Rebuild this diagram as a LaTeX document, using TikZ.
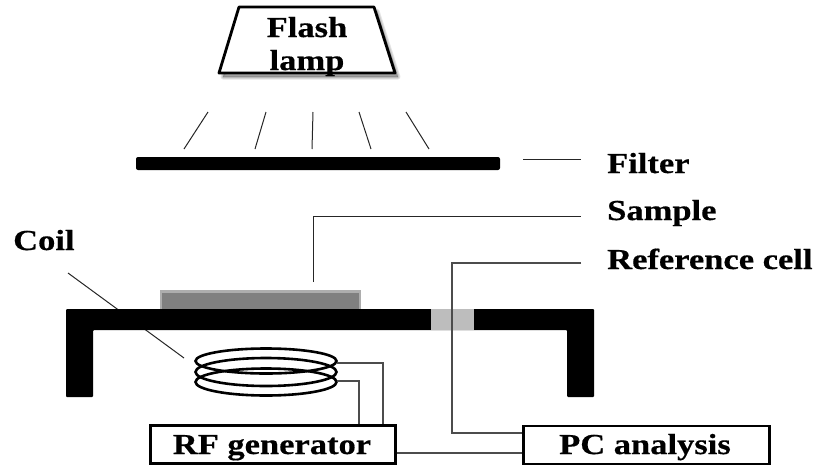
\documentclass[tikz,border=0pt]{standalone}
\usepackage{fontspec}
\setmainfont[FakeStretch=1.19,BoldFeatures={FakeBold=0.5}]{Liberation Serif}
\usetikzlibrary{calc}
\definecolor{tablegray}{gray}{0.74}
\definecolor{samplefill}{gray}{0.5}
\definecolor{sampleedge}{gray}{0.68}
\tikzset{
  lbl/.style={font=\fontsize{29}{31}\selectfont\bfseries, inner sep=0pt, anchor=base west},
  boxlbl/.style={font=\fontsize{29}{31}\selectfont\bfseries, inner sep=0pt, anchor=base},
  lampl/.style={font=\fontsize{29}{31}\selectfont\bfseries, inner sep=0pt, anchor=base},
  instr/.style={draw=black, line width=2.6pt, fill=white, inner sep=0pt, anchor=north west},
  lead/.style={draw=black!85, line width=1pt},
  ray/.style={draw=black!85, line width=1pt},
  wire/.style={draw=black!70, line width=1.2pt},
  coilloop/.style={draw=black, line width=2.6pt},
  solid black/.style={fill=black, rounded corners=1pt},
  lampshadow/.style={fill=black, opacity=0.10, line join=round},
}
\begin{document}
\begin{tikzpicture}[x=1pt,y=-1pt]
\useasboundingbox (0,0) rectangle (818,466);
% lamp
\coordinate (l1) at (239,7); \coordinate (l2) at (374,7);
\coordinate (l3) at (395,73); \coordinate (l4) at (219,73);
\foreach \w in {1,3,5}
  \filldraw[lampshadow, line width=\w pt] (243,11) -- (377,11) -- (398,77) -- (223,77) -- cycle;
\draw[line width=2.8pt, fill=white, line join=round] (l1) -- (l2) -- (l3) -- (l4) -- cycle;
\node[lampl] (flash) at (307,37) {Flash};
\node[lampl] (lamp) at (307,70) {lamp};
% rays
\coordinate (r1a) at (208,112); \coordinate (r1b) at (184,149);
\coordinate (r2a) at (266,112); \coordinate (r2b) at (255,149);
\coordinate (r3a) at (313,112); \coordinate (r3b) at (312,149);
\coordinate (r4a) at (359,112); \coordinate (r4b) at (371,149);
\coordinate (r5a) at (406,112); \coordinate (r5b) at (429,149);
\draw[ray] (r1a)--(r1b); \draw[ray] (r2a)--(r2b); \draw[ray] (r3a)--(r3b);
\draw[ray] (r4a)--(r4b); \draw[ray] (r5a)--(r5b);
% filter
\fill[solid black, rounded corners=2pt] (136,157) rectangle (500,170);
% labels
\node[lbl] (filter) at (607,173) {Filter};
\node[lbl] (sample) at (607,220) {Sample};
\node[lbl] (refcell) at (607,269) {Reference cell};
\node[lbl] (coil) at (13,250) {Coil};
% coil leader (behind the table)
\coordinate (coilA) at (68,273); \coordinate (coilB) at (184,358);
\draw[lead] (coilA) -- (coilB);
% sample
\draw[draw=sampleedge, line width=2.6pt, fill=samplefill] (161,309) -- (161,291.5) -- (360,291.5) -- (360,309);
% table
\fill[solid black] (66,309) -- (594,309) -- (594,397) -- (567,397) -- (567,330) -- (93,330) -- (93,397) -- (66,397) -- cycle;
\fill[tablegray] (431,309) rectangle (474,330);
% boxes
\node[instr, minimum width=245pt, minimum height=38pt] (rf) at (149,424) {};
\node[instr, minimum width=246pt, minimum height=38pt] (pc) at (522,424.5) {};
\node[boxlbl] (rft) at (272,454) {RF generator};
\node[boxlbl] (pct) at (645,454) {PC analysis};
% leaders
\coordinate (filterA) at (523,159); \coordinate (filterB) at (581,159);
\draw[lead] (filterA) -- (filterB);
\coordinate (sampA) at (313,282); \coordinate (sampB) at (581,216);
\draw[lead] (sampA) |- (sampB);
\coordinate (refA) at (581,263);
\draw[wire] (refA) -- (452,263) -- (452,433) -- (pc.west |- 0,433);
\draw[wire] (rf.east |- 0,453) -- (pc.west |- 0,453);
% coil
\draw[coilloop] (266,361) ellipse [x radius=70.5, y radius=12.5];
\draw[coilloop] (266,372) ellipse [x radius=70.5, y radius=14];
\draw[coilloop] (266,382) ellipse [x radius=70.5, y radius=13.5];
\coordinate (coilT) at (337,363); \coordinate (coilU) at (337,381);
\draw[wire] (coilT) -| (383,0 |- rf.north);
\draw[wire] (coilU) -| (359,0 |- rf.north);
\end{tikzpicture}
\end{document}
